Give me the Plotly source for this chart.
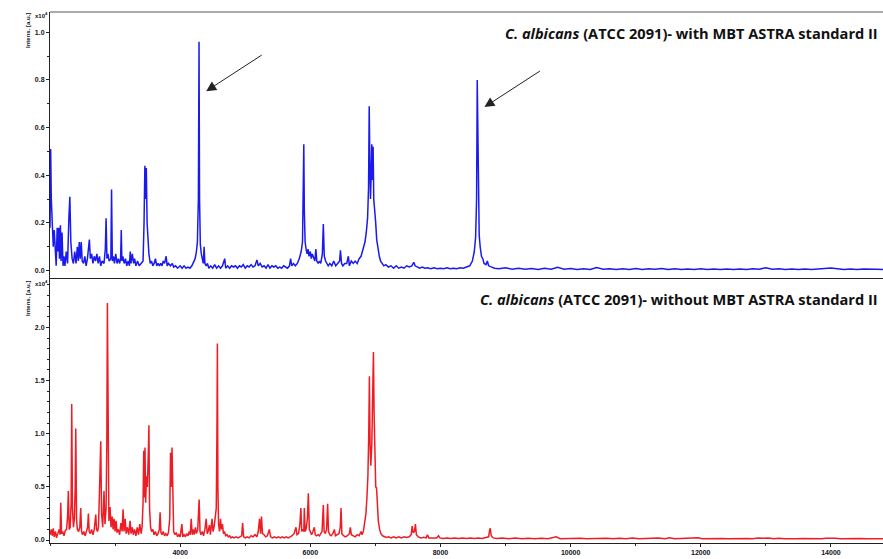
import plotly.graph_objects as go
from plotly.subplots import make_subplots

# ---------------- data (m/z, intensity x10^4) ----------------
top_mz = [2000, 2010, 2020, 2035, 2050, 2065, 2080, 2095, 2110, 2120, 2135, 2145, 2160, 2170, 2185, 2200,
          2215, 2230, 2250, 2270, 2290, 2305, 2320, 2340, 2360, 2380, 2400, 2420, 2435, 2450, 2465, 2480,
          2495, 2515, 2535, 2555, 2575, 2590, 2605, 2620, 2640, 2660, 2680, 2700, 2720, 2740, 2760, 2780,
          2800, 2830, 2850, 2862, 2875, 2890, 2910, 2935, 2946, 2958, 2975, 2990, 3010, 3030, 3050, 3070,
          3085, 3095, 3105, 3120, 3140, 3160, 3180, 3200, 3220, 3233, 3245, 3265, 3285, 3300, 3320, 3345,
          3370, 3400, 3430, 3445, 3458, 3468, 3480, 3492, 3505, 3520, 3540, 3560, 3580, 3600, 3620, 3640,
          3660, 3680, 3700, 3720, 3740, 3760, 3785, 3800, 3820, 3850, 3880, 3900, 3930, 3960, 4000, 4030,
          4060, 4090, 4120, 4150, 4180, 4200, 4230, 4250, 4265, 4280, 4290, 4298, 4310, 4325, 4340, 4355,
          4368, 4380, 4400, 4420, 4440, 4470, 4500, 4530, 4560, 4590, 4620, 4650, 4685, 4700, 4730, 4760,
          4790, 4820, 4850, 4880, 4910, 4940, 4970, 5000, 5030, 5060, 5090, 5120, 5150, 5180, 5200, 5230,
          5260, 5290, 5320, 5350, 5380, 5410, 5440, 5470, 5500, 5530, 5560, 5590, 5620, 5650, 5680, 5697,
          5715, 5740, 5770, 5800, 5830, 5860, 5880, 5893, 5900, 5908, 5920, 5935, 5950, 5965, 5980, 6000,
          6015, 6030, 6050, 6070, 6085, 6100, 6120, 6140, 6160, 6185, 6200, 6215, 6235, 6250, 6275, 6300,
          6330, 6360, 6390, 6420, 6450, 6463, 6480, 6500, 6530, 6560, 6585, 6600, 6630, 6660, 6690, 6720,
          6750, 6780, 6810, 6840, 6860, 6880, 6895, 6905, 6915, 6925, 6935, 6945, 6955, 6965, 6975, 6990,
          7005, 7020, 7040, 7060, 7080, 7100, 7130, 7160, 7200, 7240, 7280, 7320, 7360, 7400, 7440, 7480,
          7520, 7560, 7590, 7610, 7640, 7680, 7720, 7760, 7800, 7850, 7900, 7950, 8000, 8050, 8100, 8150,
          8200, 8250, 8300, 8350, 8400, 8450, 8490, 8520, 8540, 8555, 8565, 8572, 8580, 8595, 8610, 8630,
          8650, 8670, 8700, 8720, 8740, 8780, 8830, 8900, 9000, 9100, 9200, 9300, 9400, 9500, 9600, 9700,
          9800, 9900, 10000, 10100, 10200, 10300, 10400, 10500, 10600, 10700, 10800, 10900, 11000, 11100,
          11200, 11300, 11400, 11500, 11600, 11700, 11800, 11900, 12000, 12100, 12200, 12300, 12400, 12500,
          12600, 12700, 12800, 12900, 13000, 13100, 13200, 13300, 13400, 13500, 13600, 13700, 13800, 13900,
          14000, 14100, 14200, 14300, 14400, 14500, 14600, 14700, 14800, 14900]
top_int = [0.18, 0.51, 0.30, 0.15, 0.10, 0.17, 0.06, 0.02, 0.18, 0.08, 0.18, 0.05, 0.19, 0.04, 0.16, 0.02,
           0.06, 0.02, 0.08, 0.03, 0.22, 0.31, 0.12, 0.05, 0.03, 0.08, 0.03, 0.10, 0.04, 0.12, 0.05, 0.12,
           0.04, 0.03, 0.06, 0.02, 0.05, 0.08, 0.13, 0.05, 0.07, 0.03, 0.06, 0.04, 0.07, 0.03, 0.06, 0.02,
           0.04, 0.03, 0.09, 0.22, 0.05, 0.07, 0.04, 0.05, 0.34, 0.04, 0.06, 0.03, 0.07, 0.03, 0.05, 0.03,
           0.05, 0.17, 0.04, 0.06, 0.03, 0.05, 0.02, 0.04, 0.02, 0.08, 0.03, 0.07, 0.03, 0.05, 0.02, 0.04,
           0.02, 0.03, 0.04, 0.20, 0.44, 0.30, 0.43, 0.20, 0.10, 0.07, 0.03, 0.04, 0.02, 0.03, 0.05, 0.02,
           0.03, 0.02, 0.03, 0.02, 0.04, 0.03, 0.06, 0.02, 0.03, 0.02, 0.03, 0.015, 0.02, 0.01, 0.02, 0.01,
           0.02, 0.01, 0.015, 0.01, 0.02, 0.03, 0.05, 0.08, 0.12, 0.30, 0.96, 0.30, 0.11, 0.07, 0.04, 0.03,
           0.10, 0.03, 0.02, 0.03, 0.01, 0.02, 0.01, 0.025, 0.01, 0.02, 0.01, 0.02, 0.05, 0.01, 0.02, 0.01,
           0.02, 0.015, 0.02, 0.01, 0.02, 0.015, 0.025, 0.01, 0.02, 0.015, 0.025, 0.015, 0.02, 0.045, 0.02, 0.03,
           0.015, 0.02, 0.01, 0.025, 0.01, 0.02, 0.015, 0.02, 0.01, 0.015, 0.01, 0.02, 0.015, 0.01, 0.02, 0.05,
           0.02, 0.03, 0.02, 0.03, 0.05, 0.08, 0.12, 0.30, 0.53, 0.25, 0.12, 0.09, 0.07, 0.09, 0.06, 0.08,
           0.05, 0.07, 0.05, 0.04, 0.09, 0.04, 0.03, 0.04, 0.03, 0.07, 0.195, 0.06, 0.04, 0.03, 0.02, 0.03,
           0.02, 0.04, 0.02, 0.03, 0.04, 0.085, 0.03, 0.02, 0.03, 0.03, 0.06, 0.02, 0.04, 0.03, 0.04, 0.03,
           0.05, 0.06, 0.09, 0.12, 0.16, 0.22, 0.35, 0.69, 0.45, 0.30, 0.40, 0.53, 0.38, 0.52, 0.30, 0.26,
           0.20, 0.13, 0.09, 0.06, 0.04, 0.03, 0.02, 0.025, 0.015, 0.02, 0.01, 0.02, 0.01, 0.015, 0.01, 0.02,
           0.015, 0.02, 0.035, 0.02, 0.015, 0.01, 0.015, 0.01, 0.012, 0.008, 0.012, 0.008, 0.01, 0.008, 0.012, 0.008,
           0.01, 0.008, 0.012, 0.01, 0.015, 0.02, 0.04, 0.08, 0.14, 0.30, 0.80, 0.69, 0.40, 0.15, 0.10, 0.06,
           0.05, 0.03, 0.025, 0.04, 0.02, 0.015, 0.01, 0.008, 0.012, 0.006, 0.01, 0.006, 0.009, 0.005, 0.01, 0.006,
           0.014, 0.006, 0.009, 0.005, 0.008, 0.005, 0.013, 0.006, 0.008, 0.005, 0.008, 0.005, 0.009, 0.005,
           0.008, 0.006, 0.009, 0.005, 0.008, 0.005, 0.007, 0.005, 0.008, 0.005, 0.007, 0.005, 0.007, 0.005,
           0.007, 0.005, 0.008, 0.006, 0.012, 0.006, 0.008, 0.005, 0.007, 0.005, 0.007, 0.005, 0.007, 0.006,
           0.011, 0.008, 0.005, 0.007, 0.005, 0.007, 0.005, 0.006, 0.005, 0.006]

bot_mz = [2000, 2020, 2035, 2050, 2065, 2085, 2100, 2120, 2140, 2155, 2165, 2178, 2195, 2215, 2235, 2255,
          2270, 2282, 2295, 2310, 2325, 2334, 2345, 2360, 2375, 2387, 2396, 2408, 2420, 2440, 2458, 2472,
          2485, 2500, 2520, 2540, 2560, 2578, 2590, 2602, 2620, 2640, 2660, 2680, 2703, 2715, 2730, 2745,
          2760, 2780, 2792, 2810, 2830, 2845, 2862, 2873, 2882, 2892, 2905, 2923, 2938, 2955, 2970, 2985,
          3000, 3015, 3030, 3050, 3070, 3090, 3108, 3123, 3138, 3155, 3170, 3190, 3210, 3230, 3245, 3265,
          3280, 3300, 3320, 3340, 3360, 3380, 3400, 3415, 3430, 3440, 3450, 3460, 3470, 3482, 3495, 3510,
          3520, 3530, 3545, 3560, 3580, 3600, 3620, 3640, 3660, 3680, 3692, 3705, 3720, 3740, 3760, 3780,
          3800, 3820, 3840, 3852, 3862, 3875, 3886, 3900, 3920, 3940, 3960, 3980, 4000, 4026, 4040, 4060,
          4080, 4100, 4120, 4140, 4155, 4170, 4185, 4200, 4215, 4235, 4250, 4270, 4292, 4305, 4320, 4340,
          4360, 4380, 4400, 4415, 4430, 4450, 4465, 4490, 4505, 4520, 4540, 4555, 4565, 4572, 4580, 4590,
          4605, 4620, 4635, 4650, 4665, 4680, 4700, 4720, 4740, 4760, 4780, 4800, 4830, 4860, 4890, 4920,
          4945, 4960, 4975, 5000, 5030, 5060, 5090, 5120, 5150, 5180, 5200, 5220, 5235, 5250, 5265, 5290,
          5315, 5340, 5370, 5390, 5420, 5450, 5480, 5510, 5540, 5570, 5600, 5630, 5660, 5690, 5720, 5750,
          5780, 5795, 5820, 5840, 5855, 5868, 5885, 5900, 5908, 5920, 5935, 5955, 5970, 5985, 6000, 6020,
          6040, 6062, 6075, 6095, 6120, 6140, 6160, 6180, 6200, 6212, 6230, 6250, 6266, 6280, 6300, 6320,
          6345, 6370, 6385, 6410, 6440, 6460, 6472, 6485, 6510, 6540, 6570, 6600, 6615, 6630, 6660, 6690,
          6720, 6750, 6780, 6795, 6815, 6835, 6855, 6870, 6885, 6898, 6908, 6918, 6930, 6945, 6958, 6970,
          6980, 6992, 7005, 7018, 7030, 7045, 7065, 7085, 7110, 7140, 7170, 7200, 7240, 7280, 7320, 7360,
          7400, 7440, 7480, 7520, 7550, 7565, 7580, 7600, 7615, 7630, 7660, 7700, 7740, 7780, 7800, 7820,
          7860, 7900, 7940, 7970, 7990, 8040, 8100, 8160, 8220, 8280, 8340, 8400, 8460, 8520, 8580, 8640,
          8700, 8740, 8755, 8765, 8780, 8810, 8870, 8950, 9050, 9150, 9250, 9350, 9450, 9550, 9650, 9720,
          9780, 9840, 9950, 10050, 10150, 10250, 10350, 10450, 10550, 10650, 10750, 10850, 10950, 11050,
          11150, 11250, 11350, 11450, 11520, 11600, 11700, 11800, 11900, 11960, 12020, 12120, 12220, 12320,
          12420, 12520, 12620, 12720, 12800, 12880, 12960, 13040, 13120, 13200, 13280, 13360, 13460, 13560,
          13660, 13760, 13860, 13920, 14000, 14060, 14150, 14250, 14350, 14450, 14550, 14650, 14750, 14850]
bot_int = [0.05, 0.10, 0.04, 0.11, 0.03, 0.08, 0.02, 0.06, 0.10, 0.05, 0.35, 0.06, 0.08, 0.04, 0.09, 0.10,
           0.22, 0.46, 0.10, 0.12, 0.35, 1.28, 0.30, 0.12, 0.20, 0.50, 1.05, 0.20, 0.10, 0.08, 0.12, 0.30,
           0.08, 0.05, 0.08, 0.04, 0.10, 0.12, 0.25, 0.08, 0.06, 0.10, 0.05, 0.10, 0.24, 0.10, 0.08, 0.12,
           0.45, 0.93, 0.25, 0.12, 0.46, 0.15, 0.30, 0.90, 2.23, 0.60, 0.18, 0.31, 0.12, 0.22, 0.10, 0.20,
           0.08, 0.18, 0.07, 0.10, 0.05, 0.16, 0.08, 0.29, 0.08, 0.20, 0.06, 0.12, 0.05, 0.18, 0.06, 0.12,
           0.05, 0.10, 0.04, 0.12, 0.05, 0.15, 0.06, 0.12, 0.35, 0.84, 0.40, 0.87, 0.35, 0.60, 0.50, 0.80,
           1.08, 0.30, 0.12, 0.08, 0.10, 0.05, 0.08, 0.04, 0.06, 0.10, 0.26, 0.07, 0.05, 0.08, 0.04, 0.06,
           0.04, 0.07, 0.20, 0.82, 0.50, 0.87, 0.25, 0.08, 0.05, 0.07, 0.03, 0.05, 0.03, 0.15, 0.03, 0.05,
           0.03, 0.06, 0.04, 0.08, 0.05, 0.20, 0.05, 0.10, 0.05, 0.12, 0.06, 0.10, 0.38, 0.08, 0.05, 0.08,
           0.04, 0.10, 0.20, 0.06, 0.08, 0.14, 0.05, 0.20, 0.08, 0.12, 0.22, 0.30, 1.00, 1.85, 0.50, 0.15,
           0.08, 0.20, 0.10, 0.15, 0.06, 0.08, 0.04, 0.05, 0.03, 0.04, 0.02, 0.03, 0.02, 0.03, 0.02, 0.03,
           0.04, 0.16, 0.03, 0.02, 0.03, 0.02, 0.04, 0.03, 0.05, 0.03, 0.08, 0.20, 0.06, 0.22, 0.06, 0.05,
           0.03, 0.04, 0.10, 0.03, 0.02, 0.03, 0.02, 0.03, 0.02, 0.03, 0.02, 0.03, 0.02, 0.03, 0.04, 0.06,
           0.12, 0.05, 0.06, 0.15, 0.30, 0.08, 0.10, 0.08, 0.30, 0.08, 0.10, 0.20, 0.44, 0.10, 0.08, 0.05,
           0.08, 0.12, 0.05, 0.04, 0.05, 0.04, 0.06, 0.08, 0.33, 0.08, 0.06, 0.10, 0.34, 0.08, 0.05, 0.04,
           0.06, 0.10, 0.04, 0.05, 0.06, 0.12, 0.30, 0.06, 0.04, 0.03, 0.04, 0.06, 0.12, 0.05, 0.04, 0.03,
           0.05, 0.04, 0.08, 0.05, 0.08, 0.15, 0.25, 0.40, 0.60, 1.00, 1.54, 0.90, 0.70, 0.90, 1.40, 1.77,
           1.20, 0.70, 0.50, 0.49, 0.30, 0.18, 0.10, 0.06, 0.04, 0.03, 0.025, 0.03, 0.02, 0.03, 0.02, 0.03,
           0.02, 0.03, 0.025, 0.03, 0.05, 0.13, 0.07, 0.08, 0.15, 0.05, 0.03, 0.02, 0.025, 0.02, 0.05, 0.02,
           0.02, 0.015, 0.02, 0.04, 0.02, 0.015, 0.02, 0.015, 0.02, 0.015, 0.02, 0.015, 0.02, 0.015, 0.02, 0.015,
           0.02, 0.03, 0.09, 0.11, 0.04, 0.02, 0.015, 0.02, 0.013, 0.018, 0.012, 0.017, 0.012, 0.016, 0.012, 0.018,
           0.03, 0.013, 0.016, 0.012, 0.016, 0.012, 0.015, 0.012, 0.016, 0.012, 0.016, 0.012, 0.02, 0.012,
           0.015, 0.012, 0.02, 0.012, 0.022, 0.013, 0.015, 0.012, 0.016, 0.022, 0.013, 0.015, 0.012, 0.014,
           0.011, 0.014, 0.011, 0.014, 0.011, 0.018, 0.016, 0.018, 0.012, 0.017, 0.011, 0.014, 0.011, 0.014,
           0.011, 0.014, 0.012, 0.017, 0.02, 0.016, 0.012, 0.014, 0.011, 0.014, 0.011, 0.013, 0.011, 0.012]

x_tick_vals = [4000, 6000, 8000, 10000, 12000, 14000]
top_label = "<i>C. albicans</i> (ATCC 2091)- with MBT ASTRA standard II"
bot_label = "<i>C. albicans</i> (ATCC 2091)- without MBT ASTRA standard II"
arrow_peaks_mz = [4290, 8565]

# ---------------- figure ----------------
W, H = 883, 559
ML, MR, MT, MB = 50, 0, 12, 16
PW, PH = W - ML - MR, H - MT - MB

def px(x):
    return (x - ML) / PW

def py(y):
    return (H - MB - y) / PH

fig = make_subplots(rows=2, cols=1, shared_xaxes=True, vertical_spacing=0.0)

fig.add_trace(go.Scatter(x=top_mz, y=top_int, mode="lines",
                         line=dict(color="#1a1aee", width=1.5), hoverinfo="skip"), row=1, col=1)
fig.add_trace(go.Scatter(x=bot_mz, y=bot_int, mode="lines",
                         line=dict(color="#ee1c24", width=1.5), hoverinfo="skip"), row=2, col=1)

tickfont = dict(family="Liberation Sans", size=7, color="#111122", weight="bold")

fig.update_xaxes(range=[2000, 14800], showgrid=False, zeroline=False, showline=True,
                 linecolor="#222", linewidth=1)
fig.update_xaxes(showticklabels=False, ticks="", row=1, col=1)
fig.update_xaxes(tickvals=x_tick_vals, ticktext=[str(v) for v in x_tick_vals], ticks="outside",
                 ticklen=3, tickwidth=1, tickcolor="#222", tickfont=tickfont,
                 minor=dict(dtick=1000, tick0=0, ticks="outside", ticklen=2, tickcolor="#222"),
                 row=2, col=1)

fig.update_yaxes(showgrid=False, zeroline=False, showline=True, linecolor="#222", linewidth=1,
                 ticks="outside", ticklen=3, tickwidth=1, tickcolor="#222", tickfont=tickfont,
                 tickformat=".1f")
fig.update_yaxes(range=[-0.029, 1.085], dtick=0.2, tick0=0,
                 minor=dict(dtick=0.1, ticks="outside", ticklen=2, tickcolor="#222"), row=1, col=1)
fig.update_yaxes(range=[-0.028, 2.47], dtick=0.5, tick0=0,
                 minor=dict(dtick=0.1, ticks="outside", ticklen=2, tickcolor="#222"), row=2, col=1)

fig.update_layout(width=W, height=H, margin=dict(l=ML, r=MR, t=MT, b=MB),
                  paper_bgcolor="white", plot_bgcolor="white", showlegend=False)

# top border of upper panel
fig.add_shape(type="line", xref="paper", yref="paper", x0=0, x1=1, y0=1, y1=1,
              line=dict(color="#555", width=1))

small = dict(family="Liberation Sans", size=6, color="#111122", weight="bold")
annotations = []
for yc, ytop in [(31, 15), (299, 283)]:
    annotations.append(dict(text="Intens. [a.u.]", textangle=-90, xref="paper", yref="paper",
                            x=px(28), y=py(yc), showarrow=False, font=small,
                            xanchor="center", yanchor="middle"))
    annotations.append(dict(text="x10<sup>4</sup>", xref="paper", yref="paper",
                            x=px(33), y=py(ytop), showarrow=False, font=small,
                            xanchor="left", yanchor="middle"))

title_font = dict(family="Open Sans", size=14.6, color="#111111", weight="bold")
annotations.append(dict(text=top_label, xref="paper", yref="paper", x=px(880), y=py(33),
                        showarrow=False, font=title_font, xanchor="right", yanchor="middle"))
annotations.append(dict(text=bot_label, xref="paper", yref="paper", x=px(880), y=py(299),
                        showarrow=False, font=title_font, xanchor="right", yanchor="middle"))

# arrows pointing at the two standard peaks
for mz, yv in zip(arrow_peaks_mz, [0.753, 0.686]):
    annotations.append(dict(text="", x=mz + 110, y=yv, xref="x", yref="y", showarrow=True,
                            ax=57, ay=-37, arrowhead=2, arrowsize=2, arrowwidth=1,
                            arrowcolor="#222222", standoff=0))
fig.update_layout(annotations=annotations)

fig.write_html("out.html")
